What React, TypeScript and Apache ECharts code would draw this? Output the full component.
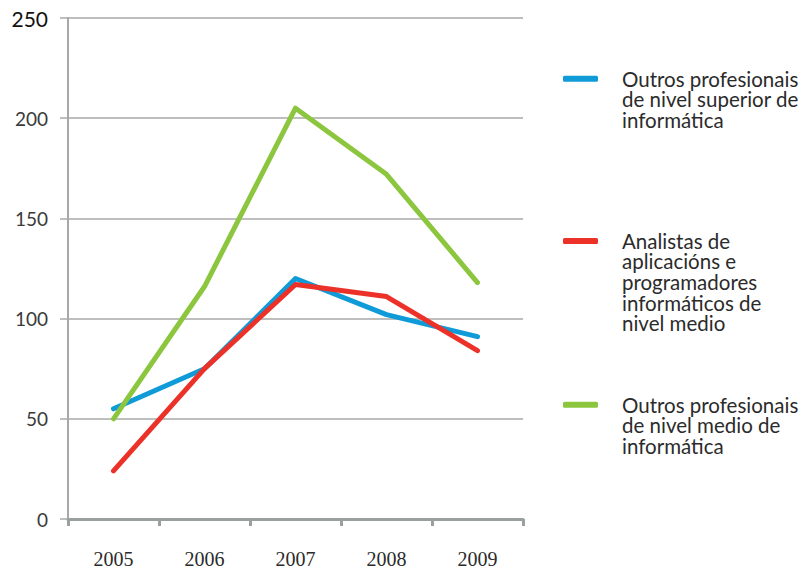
import React, { useEffect, useRef } from "react";
import * as echarts from "echarts";

const years = ["2005", "2006", "2007", "2008", "2009"];
const superiorValues = [55, 75, 120, 102, 91];
const analistasValues = [24, 75, 117, 111, 84];
const medioValues = [50, 116, 205, 172, 118];

const nameSuperior = "Outros profesionais\nde nivel superior de\ninformática";
const nameAnalistas = "Analistas de\naplicacións e\nprogramadores\ninformáticos de\nnivel medio";
const nameMedio = "Outros profesionais\nde nivel medio de\ninformática";

const LH = 20.6;
const legendFont = "Lato, 'Open Sans', sans-serif";

function legendFor(name: string, lines: number, top: number) {
  return {
    data: [name],
    left: 563,
    top,
    padding: 0,
    itemWidth: 35,
    itemHeight: 6,
    icon: "roundRect",
    selectedMode: false,
    formatter: (n: string) => "\n".repeat(lines - 1) + n,
    textStyle: {
      fontFamily: legendFont,
      fontSize: 20.5,
      lineHeight: LH,
      color: "#2b2b2b",
      padding: [0, 0, 0, 19],
    },
  };
}

export default function App() {
  const ref = useRef<HTMLDivElement>(null);
  useEffect(() => {
    const chart = echarts.init(ref.current!, null, { renderer: "svg" });
    chart.setOption({
      animation: false,
      backgroundColor: "#ffffff",
      grid: { left: 68, top: 18, right: 283, bottom: 50, containLabel: false },
      legend: [
        legendFor(nameSuperior, 3, 27),
        legendFor(nameAnalistas, 5, 148),
        legendFor(nameMedio, 3, 353),
      ],
      xAxis: {
        type: "category",
        data: years,
        boundaryGap: true,
        axisLine: { lineStyle: { color: "#9aa0a0", width: 3 } },
        axisTick: { show: true, length: 7, alignWithLabel: false, lineStyle: { color: "#9aa0a0", width: 3 } },
        axisLabel: {
          margin: 30,
          fontFamily: "'Liberation Serif', serif",
          fontSize: 20,
          color: "#2b2b2b",
        },
        splitLine: { show: false },
      },
      yAxis: {
        type: "value",
        min: 0,
        max: 250,
        interval: 50,
        axisLine: { show: true, lineStyle: { color: "#a8a8a8", width: 2 } },
        axisTick: { show: true, length: 8, lineStyle: { color: "#a8a8a8", width: 1.5 } },
        axisLabel: {
          margin: 20,
          fontFamily: legendFont,
          fontSize: 19,
          color: "#3a3a3a",
          formatter: (v: number) => (v === 250 ? "{top|250}" : String(v)),
          rich: {
            top: { fontFamily: legendFont, fontSize: 21, color: "#111111" },
          },
        },
        splitLine: { show: true, lineStyle: { color: "#a8a8a8", width: 1.5 } },
      },
      series: [
        {
          name: nameSuperior,
          type: "line",
          data: superiorValues,
          symbol: "none",
          color: "#0f9ad8",
          lineStyle: { width: 5, cap: "round", join: "round" },
        },
        {
          name: nameAnalistas,
          type: "line",
          data: analistasValues,
          symbol: "none",
          color: "#ec3128",
          lineStyle: { width: 5, cap: "round", join: "round" },
        },
        {
          name: nameMedio,
          type: "line",
          data: medioValues,
          symbol: "none",
          color: "#8cc63f",
          lineStyle: { width: 5, cap: "round", join: "round" },
        },
      ],
    });
    return () => chart.dispose();
  }, []);
  return <div ref={ref} style={{ width: 806, height: 569, position: "absolute", left: 0, top: 0 }} />;
}
